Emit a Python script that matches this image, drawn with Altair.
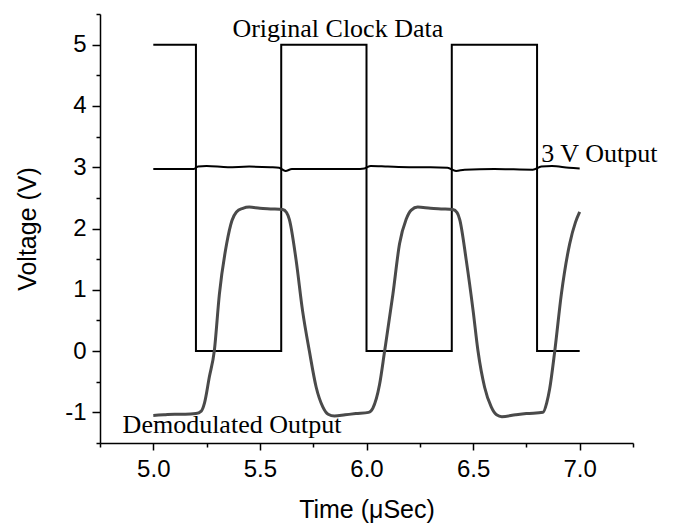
import altair as alt
import pandas as pd

# Original clock data (square wave)
clock_t = [5.0, 5.2, 5.2, 5.6, 5.6, 6.0, 6.0, 6.4, 6.4, 6.8, 6.8, 7.0]
clock_v = [5, 5, 0, 0, 5, 5, 0, 0, 5, 5, 0, 0]

# 3 V output
out3_t = [5.0, 5.1, 5.19, 5.21, 5.25, 5.35, 5.45, 5.55, 5.59, 5.62, 5.65, 5.8, 5.95,
          5.99, 6.02, 6.1, 6.2, 6.3, 6.38, 6.42, 6.46, 6.6, 6.78, 6.82, 6.87, 6.95, 7.0]
out3_v = [2.97, 2.97, 2.97, 3.01, 3.02, 3.0, 3.01, 3.0, 2.99, 2.94, 2.97, 2.97, 2.97,
          2.98, 3.02, 3.01, 3.0, 3.0, 2.99, 2.94, 2.96, 2.97, 2.96, 3.01, 3.02, 2.99, 2.98]

# Demodulated output
demod_t = [5.00, 5.05, 5.10, 5.15, 5.20, 5.225, 5.24, 5.263, 5.286, 5.31, 5.344, 5.369,
           5.39, 5.42, 5.45, 5.50, 5.55, 5.607, 5.625, 5.638, 5.67, 5.70, 5.732, 5.764,
           5.795, 5.82, 5.85, 5.90, 5.95, 6.01, 6.03, 6.061, 6.085, 6.124, 6.155, 6.186,
           6.21, 6.24, 6.30, 6.35, 6.405, 6.425, 6.437, 6.468, 6.50, 6.523, 6.554, 6.585,
           6.61, 6.635, 6.70, 6.75, 6.828, 6.845, 6.859, 6.883, 6.914, 6.953, 6.98, 7.0]
demod_v = [-1.05, -1.04, -1.03, -1.03, -1.02, -0.98, -0.85, -0.42, 0.0, 0.93, 1.75, 2.13,
           2.27, 2.33, 2.35, 2.33, 2.32, 2.31, 2.26, 2.15, 1.48, 0.66, 0.0, -0.59,
           -0.91, -1.03, -1.06, -1.04, -1.02, -1.0, -0.93, -0.55, 0.0, 0.93, 1.75, 2.15,
           2.30, 2.35, 2.33, 2.32, 2.31, 2.26, 2.15, 1.48, 0.66, 0.0, -0.59, -0.91,
           -1.04, -1.07, -1.04, -1.02, -1.0, -0.85, -0.62, 0.0, 0.93, 1.75, 2.1, 2.27]

# Annotations
label_text = ["Original Clock Data", "3 V Output", "Demodulated Output"]
label_t = [5.371, 6.82, 4.856]
label_v = [5.13, 3.08, -1.34]

x_major = [5.0, 5.5, 6.0, 6.5, 7.0]
x_minor = [4.75, 5.25, 5.75, 6.25, 6.75, 7.25]
y_major = [-1, 0, 1, 2, 3, 4, 5]
y_minor = [-1.5, -0.5, 0.5, 1.5, 2.5, 3.5, 4.5, 5.5]

clock_df = pd.DataFrame({"t": clock_t, "v": clock_v, "i": range(len(clock_t))})
out3_df = pd.DataFrame({"t": out3_t, "v": out3_v})
demod_df = pd.DataFrame({"t": demod_t, "v": demod_v})
label_df = pd.DataFrame({"t": label_t, "v": label_v, "label": label_text})

xscale = alt.Scale(domain=[4.75, 7.25], nice=False, zero=False)
yscale = alt.Scale(domain=[-1.5, 5.5], nice=False, zero=False)

axis_common = dict(
    domainColor="black", domainWidth=1.5, tickColor="black", tickWidth=1.5,
    labelFont="Liberation Sans", labelFontSize=24, labelColor="black",
    titleFont="Liberation Sans", titleFontSize=25, titleFontWeight="normal",
    titleColor="black", grid=False,
)

x_axis = alt.Axis(values=x_major, format=".1f", tickSize=7, labelPadding=7,
                  title="Time (\u03bcSec)", titlePadding=16, orient="bottom",
                  **axis_common)
y_axis = alt.Axis(values=y_major, labelExpr="'' + datum.value", tickSize=8,
                  labelPadding=6, title="Voltage (V)", titlePadding=24,
                  orient="left", **axis_common)

clock = alt.Chart(clock_df).mark_line(color="black", strokeWidth=2).encode(
    x=alt.X("t:Q", scale=xscale, axis=x_axis),
    y=alt.Y("v:Q", scale=yscale, axis=y_axis),
    order=alt.Order("i:Q"),
)

out3 = alt.Chart(out3_df).mark_line(color="black", strokeWidth=2,
                                     interpolate="monotone").encode(
    x=alt.X("t:Q", scale=xscale, axis=None),
    y=alt.Y("v:Q", scale=yscale, axis=None),
)

demod = alt.Chart(demod_df).mark_line(color="#4a4a4a", strokeWidth=3,
                                       interpolate="monotone").encode(
    x=alt.X("t:Q", scale=xscale, axis=None),
    y=alt.Y("v:Q", scale=yscale, axis=None),
)

labels = alt.Chart(label_df).mark_text(
    align="left", baseline="alphabetic", font="Liberation Serif",
    fontSize=26, color="black",
).encode(
    x=alt.X("t:Q", scale=xscale, axis=None),
    y=alt.Y("v:Q", scale=yscale, axis=None),
    text="label:N",
)

minor = alt.Chart(clock_df).mark_point(opacity=0).encode(
    x=alt.X("t:Q", scale=xscale,
            axis=alt.Axis(values=x_minor, labels=False, domain=False, tickSize=4,
                          tickWidth=1.5, tickColor="black", title=None,
                          orient="bottom", grid=False)),
    y=alt.Y("v:Q", scale=yscale,
            axis=alt.Axis(values=y_minor, labels=False, domain=False, tickSize=4,
                          tickWidth=1.5, tickColor="black", title=None,
                          orient="left", grid=False)),
)

chart = alt.layer(clock, out3, demod, labels, minor).resolve_axis(
    x="independent", y="independent"
).properties(
    width=533, height=429, autosize="none",
    padding={"left": 92, "top": 6, "right": 30, "bottom": 80},
).configure_view(strokeWidth=0)

chart.save("out.html", embed_options={"renderer": "svg", "actions": False})
